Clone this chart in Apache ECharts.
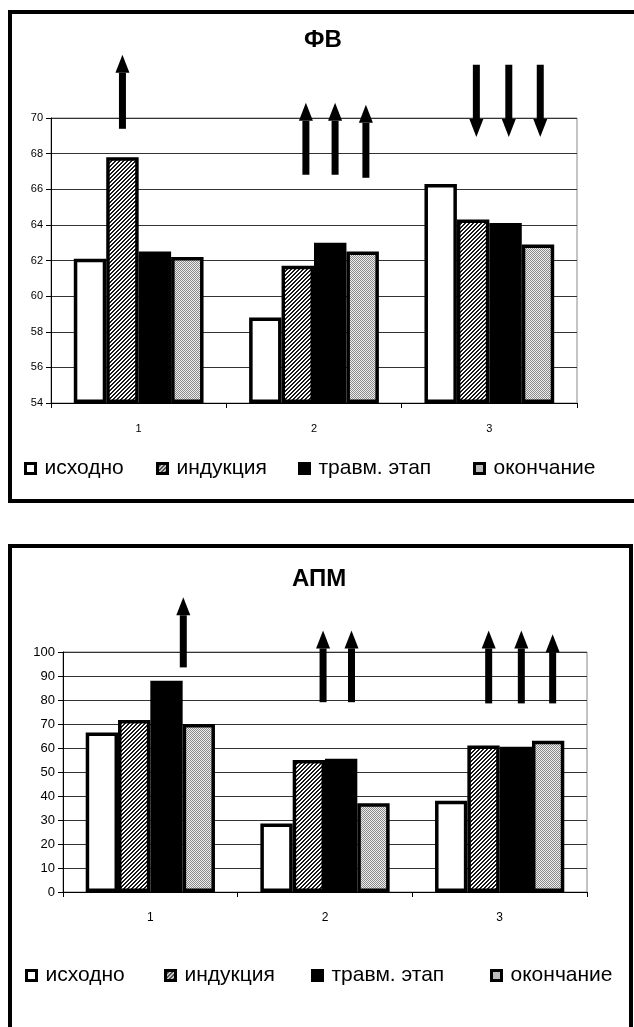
<!DOCTYPE html>
<html>
<head>
<meta charset="utf-8">
<script src="https://cdn.jsdelivr.net/npm/echarts@6/dist/echarts.min.js"></script>
<style>
  html, body { margin: 0; padding: 0; background: #fff; }
  #chart { width: 634px; height: 1027px; }
</style>
</head>
<body>
<div id="chart"></div>
<script>
// Groups on the x axis and the four measurement stages
const categories = ['1', '2', '3'];
const stageNames = ['исходно', 'индукция', 'травм. этап', 'окончание'];

// ФВ values per stage
const fvIshodno = [62.1, 58.8, 66.3];
const fvIndukciya = [67.8, 61.7, 64.3];
const fvTravm = [62.5, 63.0, 64.1];
const fvOkonchanie = [62.2, 62.5, 62.9];

// АПМ values per stage
const apmIshodno = [66.5, 28.5, 38];
const apmIndukciya = [71.7, 55, 61];
const apmTravm = [88, 55.5, 60.5];
const apmOkonchanie = [70, 37, 63];

// value axis range: [min, max, step]
const fvAxis = [54, 70, 2];
const apmAxis = [0, 100, 10];

// trend arrows: [group, bar slot, tail value, tip value]
const fvArrows = [
  [0, 1.0, 69.45, 73.55],
  [1, 1.25, 66.87, 70.85], [1, 2.15, 66.87, 70.85], [1, 3.1, 66.7, 70.74],
  [2, 1.1, 72.99, 68.94], [2, 2.1, 72.99, 68.94], [2, 3.07, 72.99, 68.94]
];
const apmArrows = [
  [0, 2.52, 94.0, 122.8],
  [1, 1.44, 79.5, 109], [1, 2.32, 79.5, 109],
  [2, 1.16, 79, 109], [2, 2.17, 79, 109], [2, 3.14, 79, 107.4]
];

const FONT = "'Liberation Sans', Arial, sans-serif";
const GAP = 0.26;

function makePattern(size, draw) {
  const c = document.createElement('canvas');
  c.width = c.height = size;
  draw(c.getContext('2d'));
  return { image: c, repeat: 'repeat' };
}
// fine diagonal hatching
const hatchFill = makePattern(4, g => {
  g.fillStyle = '#ffffff'; g.fillRect(0, 0, 4, 4);
  g.fillStyle = '#1a1a1a';
  for (let i = 0; i < 4; i++) {
    g.fillRect(i, 3 - i, 1, 1);
    g.fillRect((i + 1) % 4, 3 - i, 1, 1);
  }
});
// fine dotted grey
const dotFill = makePattern(2, g => {
  g.fillStyle = '#eeeeee'; g.fillRect(0, 0, 2, 2);
  g.fillStyle = '#8a8a8a';
  g.fillRect(0, 0, 1, 1); g.fillRect(1, 1, 1, 1);
});
const stageFills = ['#ffffff', hatchFill, '#000000', dotFill];

function arrowItem(params, api) {
  const slot = api.value(1);
  const base = api.coord([api.value(0), api.value(2)]);
  const tip = api.coord([api.value(0), api.value(3)]);
  const barW = api.size([1, 0])[0] * (1 - GAP) / 4;
  const x = base[0] + (slot - 1.5) * barW;
  const dir = tip[1] < base[1] ? -1 : 1;
  const headLen = 18, headHalf = 7, shaftHalf = 3.5;
  const neck = tip[1] - dir * headLen;
  return {
    type: 'group',
    children: [
      { type: 'rect', shape: { x: x - shaftHalf, y: Math.min(base[1], neck), width: shaftHalf * 2, height: Math.abs(neck - base[1]) + 1 }, style: { fill: '#000' } },
      { type: 'polygon', shape: { points: [[x - headHalf, neck], [x + headHalf, neck], [x, tip[1]]] }, style: { fill: '#000' } }
    ]
  };
}

function barSeries(name, data, idx, fill) {
  return {
    name: name, type: 'bar', data: data,
    xAxisIndex: idx, yAxisIndex: idx,
    barGap: '0%', barCategoryGap: (GAP * 100) + '%',
    clip: false,
    itemStyle: { color: fill, borderColor: '#000', borderWidth: 3.5 },
    emphasis: { disabled: true },
    animation: false
  };
}

function legendsAt(lefts, top) {
  return stageNames.map((n, i) => ({
    left: lefts[i], top: top, padding: 0,
    selectedMode: false,
    itemWidth: 10, itemHeight: 10,
    icon: 'rect',
    data: [{ name: n, itemStyle: { borderColor: '#000', borderWidth: 3 } }],
    textStyle: { fontFamily: FONT, fontSize: 21, color: '#000', padding: [0, 0, 0, 4] }
  }));
}

function catAxis(idx, labelSize) {
  return {
    gridIndex: idx, type: 'category', data: categories,
    axisLine: { lineStyle: { color: '#000', width: 1 } },
    axisTick: { show: true, length: 5, lineStyle: { color: '#000' } },
    axisLabel: { color: '#000', fontSize: labelSize, fontFamily: FONT, margin: 20 },
    splitLine: { show: false }
  };
}
function valAxis(idx, range, labelSize) {
  return {
    gridIndex: idx, type: 'value',
    min: range[0], max: range[1], interval: range[2], startValue: range[0],
    axisLine: { show: true, lineStyle: { color: '#000', width: 1 } },
    axisTick: { show: true, length: 5, lineStyle: { color: '#000' } },
    axisLabel: { color: '#000', fontSize: labelSize, fontFamily: FONT, margin: 8 },
    splitLine: { show: true, lineStyle: { color: '#333', width: 1 } }
  };
}

const fvSets = [fvIshodno, fvIndukciya, fvTravm, fvOkonchanie];
const apmSets = [apmIshodno, apmIndukciya, apmTravm, apmOkonchanie];

const option = {
  backgroundColor: '#fff',
  animation: false,
  textStyle: { fontFamily: FONT },
  title: [
    { text: 'ФВ', left: 304, top: 28, padding: 0, textStyle: { fontFamily: FONT, fontSize: 24, fontWeight: 'bold', color: '#000' } },
    { text: 'АПМ', left: 292, top: 567, padding: 0, textStyle: { fontFamily: FONT, fontSize: 24, fontWeight: 'bold', color: '#000' } }
  ],
  grid: [
    { left: 51, width: 526, top: 118, height: 285, show: true, borderColor: '#888', borderWidth: 1 },
    { left: 63, width: 524, top: 652, height: 240, show: true, borderColor: '#888', borderWidth: 1 }
  ],
  xAxis: [catAxis(0, 11), catAxis(1, 12)],
  yAxis: [valAxis(0, fvAxis, 11), valAxis(1, apmAxis, 13)],
  legend: legendsAt([24, 156, 298, 473], 458).concat(legendsAt([25, 164, 311, 490], 965)),
  graphic: [
    { type: 'rect', z: 100, shape: { x: 10, y: 12, width: 640, height: 489 }, style: { fill: 'none', stroke: '#000', lineWidth: 4 } },
    { type: 'rect', z: 100, shape: { x: 10, y: 546, width: 621, height: 600 }, style: { fill: 'none', stroke: '#000', lineWidth: 4 } }
  ],
  series: [
    ...stageNames.map((n, i) => barSeries(n, fvSets[i], 0, stageFills[i])),
    ...stageNames.map((n, i) => barSeries(n, apmSets[i], 1, stageFills[i])),
    { type: 'custom', xAxisIndex: 0, yAxisIndex: 0, data: fvArrows, encode: { x: 0, y: 2 }, renderItem: arrowItem, silent: true, z: 5 },
    { type: 'custom', xAxisIndex: 1, yAxisIndex: 1, data: apmArrows, encode: { x: 0, y: 2 }, renderItem: arrowItem, silent: true, z: 5 }
  ]
};

const chart = echarts.init(document.getElementById('chart'), null, { renderer: 'canvas' });
chart.setOption(option);
</script>
</body>
</html>
